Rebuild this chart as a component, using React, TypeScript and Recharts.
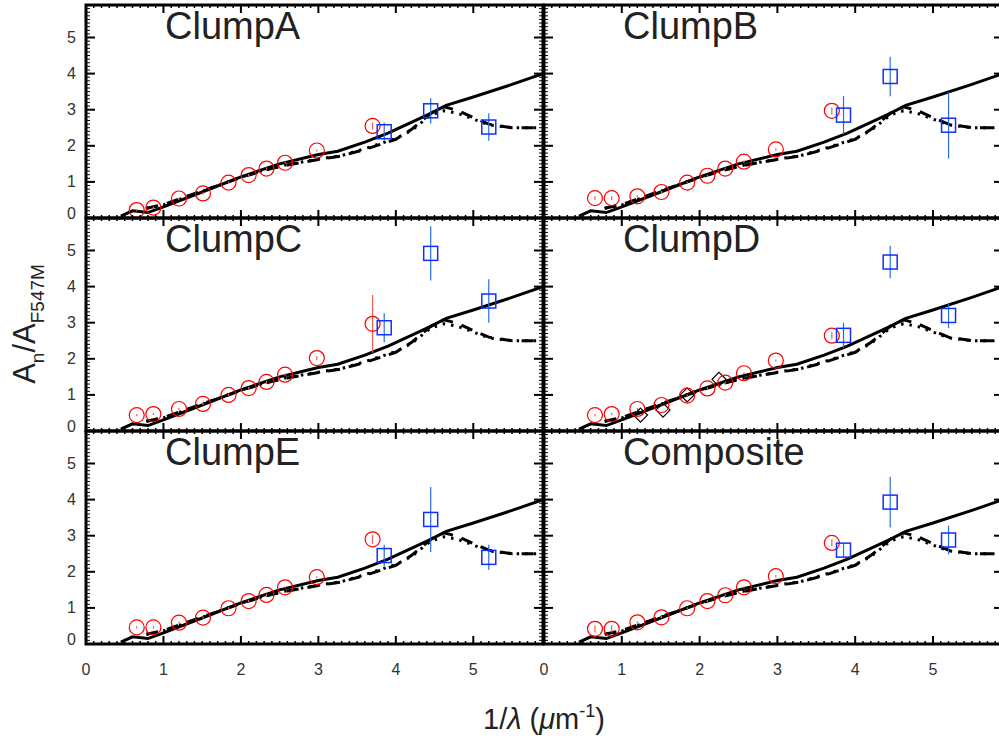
import React from 'react';
import { ComposedChart, Line, Scatter, XAxis, YAxis, ErrorBar, ReferenceArea } from 'recharts';

// band positions, 1/lambda (um^-1)
const bandX = [0.655, 0.87, 1.2, 1.51, 1.84, 2.1, 2.33, 2.57, 2.98, 3.7];
const uvX = [3.85, 4.45, 5.2];

// extinction curves
const solidX = [0.45, 0.6, 0.8, 1.0, 1.5, 2.0, 2.5, 3.0, 3.25, 3.6, 3.9, 4.2, 4.45, 4.65, 5.0, 5.5, 5.9];
const solidY = [0.05, 0.2, 0.15, 0.31, 0.72, 1.14, 1.5, 1.76, 1.85, 2.1, 2.35, 2.65, 2.9, 3.12, 3.35, 3.7, 4.0];
const bumpX = [0.78, 1.0, 1.5, 2.0, 2.3, 2.6, 3.0, 3.3, 3.6, 4.0, 4.2, 4.45, 4.62, 4.8, 5.0, 5.2, 5.5, 5.9];
const dottedY = [0.27, 0.36, 0.74, 1.13, 1.33, 1.48, 1.63, 1.73, 1.92, 2.2, 2.42, 2.85, 2.97, 2.9, 2.74, 2.58, 2.5, 2.5];
const dashedY = [0.27, 0.37, 0.75, 1.12, 1.32, 1.47, 1.62, 1.72, 1.9, 2.18, 2.45, 2.9, 3.08, 2.98, 2.78, 2.6, 2.5, 2.5];

const clumpNames = ['ClumpA', 'ClumpB', 'ClumpC', 'ClumpD', 'ClumpE', 'Composite'];

const clumpA = [0.22, 0.29, 0.54, 0.68, 0.98, 1.19, 1.37, 1.53, 1.87, 2.55];
const clumpAErr = [0.03, 0.03, 0.03, 0.03, 0.03, 0.03, 0.03, 0.03, 0.03, 0.1];
const clumpAUv = [2.39, 2.97, 2.52];
const clumpAUvErr = [0.25, 0.35, 0.38];

const clumpB = [0.55, 0.55, 0.6, 0.72, 0.98, 1.17, 1.37, 1.56, 1.9, 2.97];
const clumpBErr = [0.05, 0.05, 0.03, 0.03, 0.03, 0.03, 0.03, 0.03, 0.03, 0.1];
const clumpBUv = [2.85, 3.92, 2.57];
const clumpBUvErr = [0.53, 0.55, 0.92];

const clumpC = [0.44, 0.47, 0.61, 0.75, 1.0, 1.19, 1.36, 1.56, 2.02, 2.97];
const clumpCErr = [0.03, 0.03, 0.03, 0.03, 0.03, 0.03, 0.03, 0.03, 0.05, 0.8];
const clumpCUv = [2.86, 4.92, 3.6];
const clumpCUvErr = [0.4, 0.75, 0.6];

const clumpD = [0.44, 0.47, 0.61, 0.72, 0.98, 1.18, 1.34, 1.6, 1.95, 2.64];
const clumpDErr = [0.03, 0.03, 0.03, 0.03, 0.03, 0.03, 0.03, 0.03, 0.03, 0.1];
const clumpDUv = [2.65, 4.68, 3.2];
const clumpDUvErr = [0.35, 0.45, 0.35];
const diamondX = [1.24, 1.53, 1.84, 2.25];
const diamondY = [0.44, 0.58, 1.0, 1.43];

const clumpE = [0.46, 0.46, 0.59, 0.73, 0.99, 1.19, 1.36, 1.57, 1.85, 2.9];
const clumpEErr = [0.03, 0.03, 0.03, 0.03, 0.03, 0.03, 0.03, 0.03, 0.03, 0.12];
const clumpEUv = [2.45, 3.45, 2.4];
const clumpEUvErr = [0.3, 0.9, 0.35];

const composite = [0.42, 0.42, 0.6, 0.74, 0.99, 1.19, 1.35, 1.57, 1.88, 2.8];
const compositeErr = [0.1, 0.1, 0.03, 0.03, 0.03, 0.03, 0.03, 0.03, 0.03, 0.1];
const compositeUv = [2.6, 3.93, 2.88];
const compositeUvErr = [0.2, 0.7, 0.4];

// minor ticks every 0.1, labelled ticks at the integers
const tickValues = Array.from({ length: 59 }, (_, i) => +(i * 0.1).toFixed(1));

const X_MAX = 5.9;
const Y_MAX = 5.9;
const font = '"Liberation Sans", Arial, Helvetica, sans-serif';

const pts = (xs: number[], ys: number[], es?: number[]) =>
  xs.map((x, i) => ({ x, y: ys[i], e: es ? es[i] : 0 }));

const isMajor = (v: number) => Math.abs(v - Math.round(v)) < 1e-6;

const CircleMark = (p: any) => (
  <circle cx={p.cx} cy={p.cy} r={7.5} fill="none" stroke="#ff0000" strokeWidth={1.2} />
);
const SquareMark = (p: any) => (
  <rect x={p.cx - 7} y={p.cy - 7} width={14} height={14} fill="none" stroke="#1030ff" strokeWidth={1.5} />
);
const DiamondMark = (p: any) => (
  <polygon
    points={`${p.cx},${p.cy - 7} ${p.cx + 7},${p.cy} ${p.cx},${p.cy + 7} ${p.cx - 7},${p.cy}`}
    fill="none"
    stroke="#000"
    strokeWidth={1.2}
  />
);

const AXW = 40; // room kept for the y axis labels
const AXH = 40; // room kept for the x axis labels
const M = { top: 10, right: 10, bottom: 0, left: 0 };
const PH = 213;

interface PanelProps {
  red: number[];
  redErr: number[];
  uv: number[];
  uvErr: number[];
  diamonds?: boolean;
  left: number;
  top: number;
  width: number;
  yLabels: boolean;
  xLabels: boolean;
}

const Panel: React.FC<PanelProps> = ({ red, redErr, uv, uvErr, diamonds, left, top, width, yLabels, xLabels }) => {
  const yTick = (p: any) => {
    const v = p.payload.value;
    const major = isMajor(v);
    const len = major ? 9 : 4;
    return (
      <g>
        <line x1={p.x} y1={p.y} x2={p.x + len} y2={p.y} stroke="#000" strokeWidth={major ? 2 : 1} />
        <line x1={p.x + width} y1={p.y} x2={p.x + width - len} y2={p.y} stroke="#000" strokeWidth={major ? 2 : 1} />
        {yLabels && major && (
          <text x={p.x - 10} y={v === 0 ? p.y - 5 : p.y} dy="0.35em" textAnchor="end" fontSize={16} fill="#333" fontFamily={font}>
            {Math.round(v)}
          </text>
        )}
      </g>
    );
  };
  const xTick = (p: any) => {
    const v = p.payload.value;
    const major = isMajor(v);
    const len = major ? 8 : 3;
    return (
      <g>
        <line x1={p.x} y1={p.y} x2={p.x} y2={p.y - len} stroke="#000" strokeWidth={major ? 2 : 1.5} />
        <line x1={p.x} y1={p.y - PH} x2={p.x} y2={p.y - PH + len} stroke="#000" strokeWidth={major ? 2 : 1.5} />
        {xLabels && major && (
          <text x={p.x} y={p.y + 25} dy="0.35em" textAnchor="middle" fontSize={16} fill="#333" fontFamily={font}>
            {Math.round(v)}
          </text>
        )}
      </g>
    );
  };

  return (
    <div style={{ position: 'absolute', left: left - AXW, top: top - M.top }}>
      <ComposedChart width={width + AXW + M.right} height={PH + M.top + AXH} margin={M}>
        <XAxis
          dataKey="x"
          type="number"
          domain={[0, X_MAX]}
          allowDataOverflow
          ticks={tickValues}
          interval={0}
          tick={xTick}
          tickLine={false}
          axisLine={false}
          tickSize={0}
          tickMargin={0}
          height={AXH}
        />
        <YAxis
          type="number"
          domain={[0, Y_MAX]}
          allowDataOverflow
          ticks={tickValues}
          interval={0}
          tick={yTick}
          tickLine={false}
          axisLine={false}
          tickSize={0}
          tickMargin={0}
          width={AXW}
        />
        <ReferenceArea x1={0} x2={X_MAX} y1={0} y2={Y_MAX} fill="none" stroke="#000" strokeWidth={3} />
        <Line data={pts(solidX, solidY)} dataKey="y" stroke="#000" strokeWidth={3} dot={false} isAnimationActive={false} />
        <Line data={pts(bumpX, dashedY)} dataKey="y" stroke="#000" strokeWidth={3} strokeDasharray="12 9" dot={false} isAnimationActive={false} />
        <Line data={pts(bumpX, dottedY)} dataKey="y" stroke="#000" strokeWidth={3} strokeDasharray="2.5 6" dot={false} isAnimationActive={false} />
        {diamonds && (
          <Scatter data={pts(diamondX, diamondY)} dataKey="y" shape={DiamondMark} isAnimationActive={false} />
        )}
        <Scatter data={pts(bandX, red, redErr)} dataKey="y" shape={CircleMark} isAnimationActive={false}>
          <ErrorBar dataKey="e" direction="y" width={0} stroke="#f06050" strokeWidth={1.2} isAnimationActive={false} />
        </Scatter>
        <Scatter data={pts(uvX, uv, uvErr)} dataKey="y" shape={SquareMark} isAnimationActive={false}>
          <ErrorBar dataKey="e" direction="y" width={0} stroke="#2a6ee0" strokeWidth={1.2} isAnimationActive={false} />
        </Scatter>
      </ComposedChart>
    </div>
  );
};

const colLeft = [86, 544];
const colWidth = [457, 459];
const rowTop = [5, 218, 431];

export default function App() {
  const panels = [
    { red: clumpA, redErr: clumpAErr, uv: clumpAUv, uvErr: clumpAUvErr },
    { red: clumpB, redErr: clumpBErr, uv: clumpBUv, uvErr: clumpBUvErr },
    { red: clumpC, redErr: clumpCErr, uv: clumpCUv, uvErr: clumpCUvErr },
    { red: clumpD, redErr: clumpDErr, uv: clumpDUv, uvErr: clumpDUvErr, diamonds: true },
    { red: clumpE, redErr: clumpEErr, uv: clumpEUv, uvErr: clumpEUvErr },
    { red: composite, redErr: compositeErr, uv: compositeUv, uvErr: compositeUvErr },
  ];
  return (
    <div style={{ position: 'absolute', left: 0, top: 0, width: 999, height: 739, overflow: 'hidden', background: '#fff' }}>
      {panels.map((p, i) => {
        const col = i % 2;
        const row = Math.floor(i / 2);
        return (
          <Panel
            key={clumpNames[i]}
            {...p}
            left={colLeft[col]}
            top={rowTop[row]}
            width={colWidth[col]}
            yLabels={col === 0}
            xLabels={row === 2}
          />
        );
      })}
      <svg width={999} height={739} style={{ position: 'absolute', left: 0, top: 0, pointerEvents: 'none' }}>
        {clumpNames.map((n, i) => (
          <text
            key={n}
            x={colLeft[i % 2] + 79}
            y={rowTop[Math.floor(i / 2)] + 34}
            fontFamily={font}
            fontSize={38}
            fill="#222"
          >
            {n}
          </text>
        ))}
        <text transform="translate(35,324) rotate(-90)" textAnchor="middle" fontFamily={font} fontSize={31} fill="#222">
          A<tspan fontSize={19} dy={9}>n</tspan>
          <tspan dy={-9}>/A</tspan>
          <tspan fontSize={19} dy={9}>F547M</tspan>
        </text>
        <text x={544} y={729} textAnchor="middle" fontFamily={font} fontSize={29} fill="#222">
          1/<tspan fontStyle="italic">λ</tspan> (<tspan fontStyle="italic">μ</tspan>m
          <tspan fontSize={18} dy={-12}>-1</tspan>
          <tspan dy={12}>)</tspan>
        </text>
      </svg>
    </div>
  );
}
